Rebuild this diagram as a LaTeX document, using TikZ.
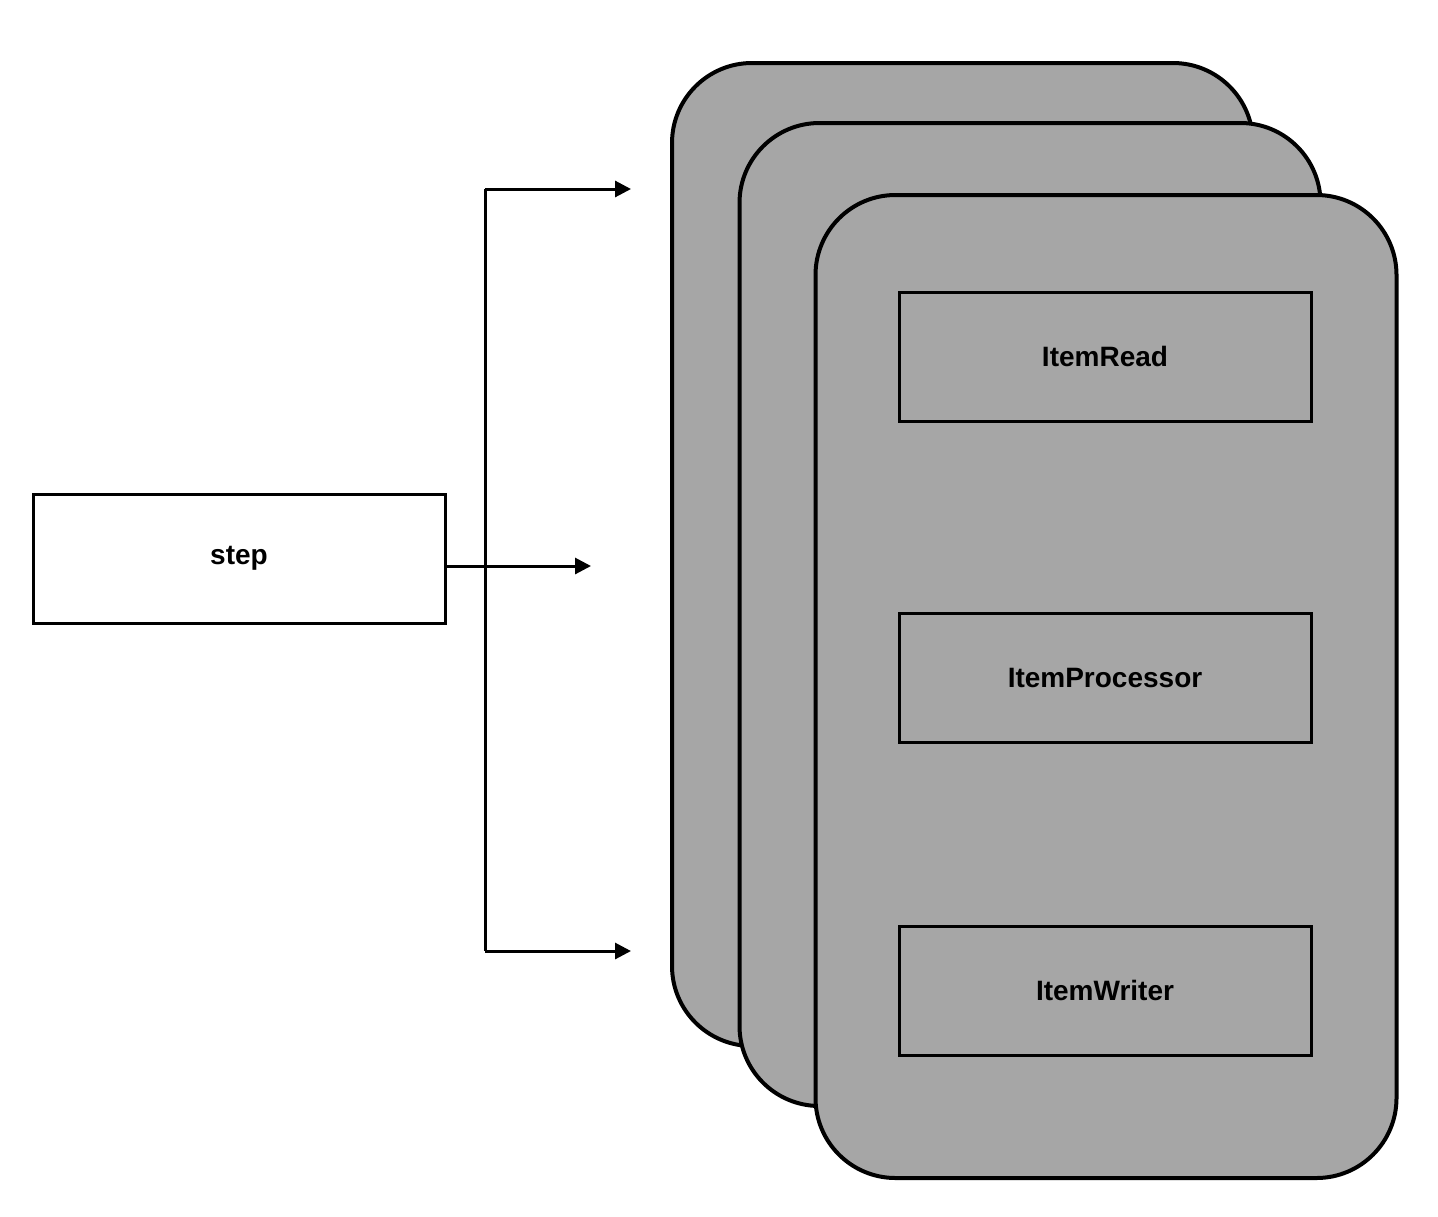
\documentclass[tikz,border=0pt]{standalone}
\usepackage{fontspec}
\setmainfont{Liberation Sans}
\usepackage{tikz}
\usetikzlibrary{arrows.meta}
\definecolor{cardgray}{HTML}{A6A6A6}

\begin{document}
\begin{tikzpicture}[x=0.5pt, y=-0.5pt,
	card/.style={draw, line width=2pt, fill=cardgray, rounded corners=40pt, minimum width=290.5pt, minimum height=491.5pt, inner sep=0pt},
	itembox/.style={draw, line width=1.5pt, minimum width=206pt, minimum height=64.5pt, inner sep=0pt, font=\fontsize{14}{16}\selectfont\bfseries},
	flow/.style={line width=1.5pt, -{Triangle[length=8pt, width=8pt]}}]
\useasboundingbox (0,0) rectangle (1438,1216);
\node [card] (back) at (962.5,554.5) {};
\node [card] (middle) at (1030,614.5) {};
\node [card] (front) at (1106,686.5) {};
\node [itembox] (read) at (1105,356.5) {ItemRead};
\node [itembox] (proc) at (1105,677.5) {ItemProcessor};
\node [itembox] (write) at (1105,990.5) {ItemWriter};
\node [itembox, fill=white] (step) at (239,558.5) {step};
\coordinate (splittop) at (485,189);
\coordinate (splitbot) at (485,951);
\coordinate (topend) at (631,189);
\coordinate (midend) at (591,566);
\coordinate (botend) at (631,951);
\draw [line width=1.5pt] (splittop) -- (splitbot);
\draw [flow] (splittop) -- (topend);
\draw [flow] (splitbot) -- (botend);
\draw [flow] (step.east |- midend) -- (midend);
\end{tikzpicture}
\end{document}
